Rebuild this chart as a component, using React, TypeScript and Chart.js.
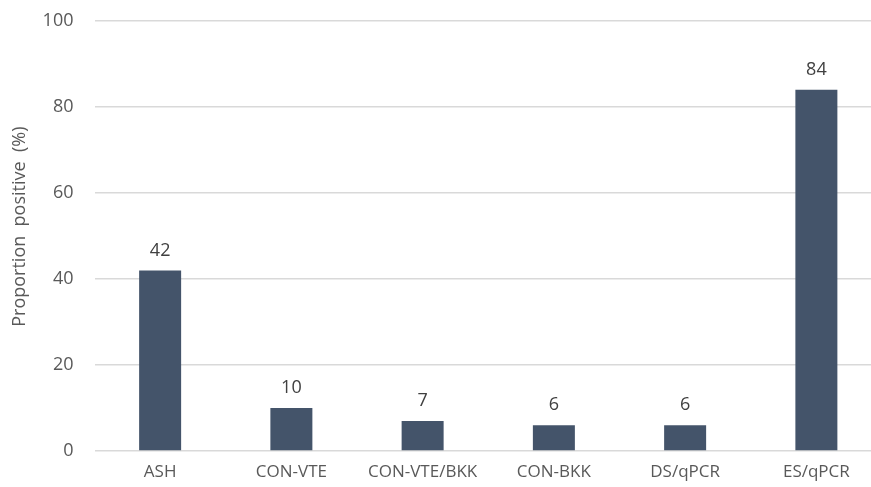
import React, { useEffect, useRef } from "react";
import { Chart, registerables } from "chart.js";

Chart.register(...registerables);

const categories = ["ASH", "CON-VTE", "CON-VTE/BKK", "CON-BKK", "DS/qPCR", "ES/qPCR"];
const values = [42, 10, 7, 6, 6, 84];
const yTicks = [0, 20, 40, 60, 80, 100];

const FONT = "'Open Sans', 'Noto Sans', sans-serif";

const labelPlugin = {
  id: "barLabels",
  afterDatasetsDraw(chart: any) {
    const ctx = chart.ctx;
    const meta = chart.getDatasetMeta(0);
    ctx.save();
    ctx.fillStyle = "#404040";
    ctx.font = `18px ${FONT}`;
    ctx.textAlign = "center";
    ctx.textBaseline = "middle";
    meta.data.forEach((bar: any, i: number) => {
      ctx.fillText(String(values[i]), bar.x, bar.y - 20);
    });
    ctx.restore();
  },
};

export default function App() {
  const ref = useRef<HTMLCanvasElement>(null);
  useEffect(() => {
    document.body.style.overflow = "hidden";
    const chart = new Chart(ref.current!, {
      type: "bar",
      data: {
        labels: categories,
        datasets: [
          {
            data: values,
            backgroundColor: "#44546A",
            barPercentage: 0.32,
            categoryPercentage: 1,
          },
        ],
      },
      options: {
        animation: false,
        responsive: false,
        maintainAspectRatio: false,
        layout: { padding: { top: 21, left: 0, right: 0, bottom: 0 } },
        plugins: { legend: { display: false }, tooltip: { enabled: false } },
        scales: {
          x: {
            grid: { display: false },
            border: { display: false },
            ticks: { color: "#595959", font: { size: 17, family: FONT }, padding: 3, maxRotation: 0, autoSkip: false },
            afterFit: (s: any) => {
              s.height = 36;
              s.paddingLeft = 0;
              s.paddingRight = 0;
            },
          },
          y: {
            min: 0,
            max: 100,
            afterBuildTicks: (s: any) => {
              s.ticks = yTicks.map((v) => ({ value: v }));
            },
            grid: { color: "#d9d9d9", lineWidth: 1.4, drawTicks: false },
            border: { display: false },
            ticks: { color: "#595959", font: { size: 18, family: FONT }, padding: 21 },
            title: {
              display: true,
              text: "    Proportion  positive  (%)",
              color: "#595959",
              font: { size: 18, family: FONT },
              padding: { top: 9, bottom: 0 },
            },
            afterFit: (s: any) => {
              s.width = 94.5;
              s.paddingTop = 0;
              s.paddingBottom = 0;
            },
          },
        },
      },
      plugins: [labelPlugin],
    });
    return () => chart.destroy();
  }, []);
  return (
    <div style={{ position: "fixed", left: 0, top: 0, width: 882, height: 487, overflow: "hidden" }}>
      <canvas ref={ref} width={882} height={487} style={{ width: 882, height: 487 }} />
    </div>
  );
}
